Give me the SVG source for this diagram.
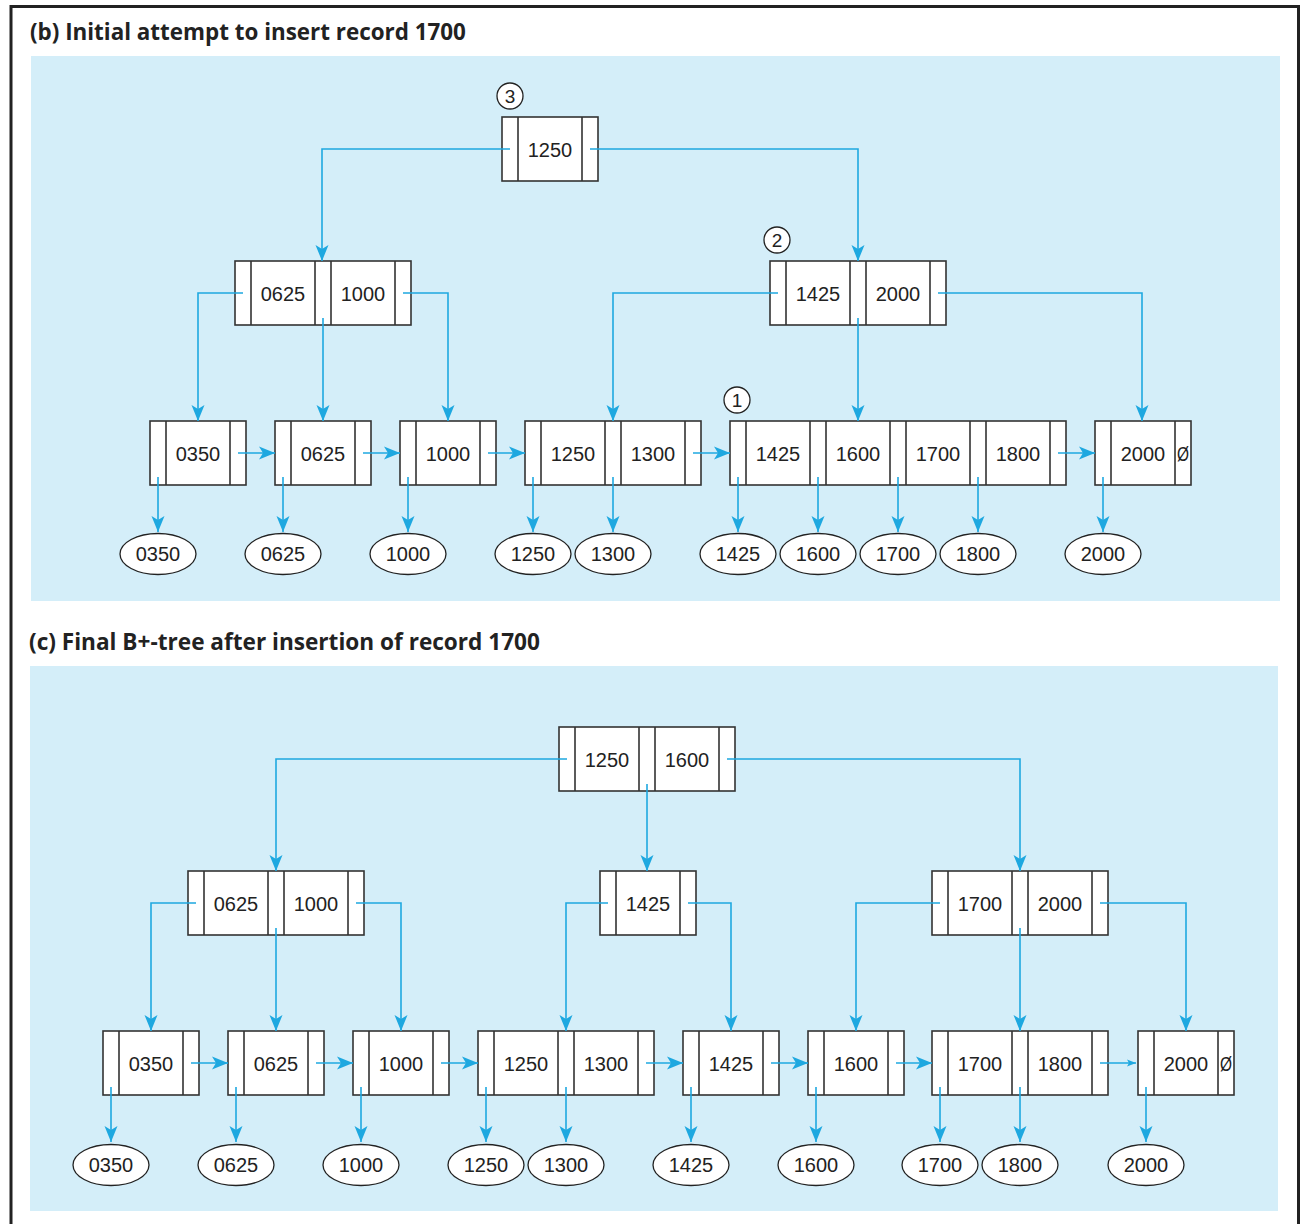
<svg xmlns="http://www.w3.org/2000/svg" width="1302" height="1224" viewBox="0 0 1302 1224">
<style>
.panel{fill:#d4eef9}
.box{fill:#fff;stroke:#333;stroke-width:1.6}
.div{stroke:#333;stroke-width:1.6}
.key{font-family:"Liberation Sans",Arial,sans-serif;font-size:20px;fill:#222;text-anchor:middle}
.title{font-family:"Open Sans","Liberation Sans",sans-serif;font-weight:700;fill:#222}
.ell{fill:#fff;stroke:#222;stroke-width:1.3}
.circ{fill:#fff;stroke:#222;stroke-width:1.3}
.con{fill:none;stroke:#1ea8e0;stroke-width:1.6}
.arr{marker-end:url(#ah)}
.sarr{marker-end:url(#ahs)}
</style>
<defs>
<marker id="ah" markerUnits="userSpaceOnUse" markerWidth="20" markerHeight="16" viewBox="-17 -8 18 16" refX="0" refY="0" orient="auto">
<path d="M0,0 L-16,-6.5 L-12,0 L-16,6.5 Z" fill="#1ea8e0"/>
</marker>
<marker id="ahs" markerUnits="userSpaceOnUse" markerWidth="12" markerHeight="10" viewBox="-10 -5 11 10" refX="0" refY="0" orient="auto">
<path d="M0,0 L-9,-3.5 L-7,0 L-9,3.5 Z" fill="#1ea8e0"/>
</marker>
</defs>
<rect x="0" y="0" width="1302" height="1224" fill="#fff"/>
<path d="M11,1224 V6.5 H1298.5 V1224" fill="none" stroke="#222" stroke-width="3"/>
<rect class="panel" x="31" y="56" width="1249" height="545"/>
<rect class="panel" x="30" y="666" width="1248" height="545"/>
<text class="title" x="30" y="40" style="font-size:22.4px">(b) Initial attempt to insert record 1700</text>
<text class="title" x="29" y="650" style="font-size:22.6px">(c) Final B+-tree after insertion of record 1700</text>

<!-- panel b nodes -->
<g id="b-root"><rect class="box" x="502" y="117" width="96" height="64"/><path class="div" d="M518,117 V181 M582,117 V181"/><text class="key" x="550" y="157">1250</text></g>
<g id="b-int-left"><rect class="box" x="235" y="261" width="176" height="64"/><path class="div" d="M251,261 V325 M315,261 V325 M331,261 V325 M395,261 V325"/><text class="key" x="283" y="301">0625</text><text class="key" x="363" y="301">1000</text></g>
<g id="b-int-right"><rect class="box" x="770" y="261" width="176" height="64"/><path class="div" d="M786,261 V325 M850,261 V325 M866,261 V325 M930,261 V325"/><text class="key" x="818" y="301">1425</text><text class="key" x="898" y="301">2000</text></g>
<g id="b-leaf-0350"><rect class="box" x="150" y="421" width="96" height="64"/><path class="div" d="M166,421 V485 M230,421 V485"/><text class="key" x="198" y="461">0350</text></g>
<g id="b-leaf-0625"><rect class="box" x="275" y="421" width="96" height="64"/><path class="div" d="M291,421 V485 M355,421 V485"/><text class="key" x="323" y="461">0625</text></g>
<g id="b-leaf-1000"><rect class="box" x="400" y="421" width="96" height="64"/><path class="div" d="M416,421 V485 M480,421 V485"/><text class="key" x="448" y="461">1000</text></g>
<g id="b-leaf-1250"><rect class="box" x="525" y="421" width="176" height="64"/><path class="div" d="M541,421 V485 M605,421 V485 M621,421 V485 M685,421 V485"/><text class="key" x="573" y="461">1250</text><text class="key" x="653" y="461">1300</text></g>
<g id="b-leaf-1425"><rect class="box" x="730" y="421" width="336" height="64"/><path class="div" d="M746,421 V485 M810,421 V485 M826,421 V485 M890,421 V485 M906,421 V485 M970,421 V485 M986,421 V485 M1050,421 V485"/><text class="key" x="778" y="461">1425</text><text class="key" x="858" y="461">1600</text><text class="key" x="938" y="461">1700</text><text class="key" x="1018" y="461">1800</text></g>
<g id="b-leaf-2000"><rect class="box" x="1095" y="421" width="96" height="64"/><path class="div" d="M1111,421 V485 M1175,421 V485"/><text class="key" x="1143" y="461">2000</text><text class="key" x="1183" y="461" textLength="12" lengthAdjust="spacingAndGlyphs">Ø</text></g>

<g id="b-markers">
<circle class="circ" cx="510" cy="96" r="13"/><text class="key" x="510" y="103" style="font-size:19px">3</text>
<circle class="circ" cx="777" cy="240" r="13"/><text class="key" x="777" y="247" style="font-size:19px">2</text>
<circle class="circ" cx="737" cy="400" r="13"/><text class="key" x="737" y="407" style="font-size:19px">1</text>
</g>

<g id="b-records">
<ellipse class="ell" cx="158" cy="554" rx="38" ry="20.5"/><text class="key" x="158" y="561">0350</text>
<ellipse class="ell" cx="283" cy="554" rx="38" ry="20.5"/><text class="key" x="283" y="561">0625</text>
<ellipse class="ell" cx="408" cy="554" rx="38" ry="20.5"/><text class="key" x="408" y="561">1000</text>
<ellipse class="ell" cx="533" cy="554" rx="38" ry="20.5"/><text class="key" x="533" y="561">1250</text>
<ellipse class="ell" cx="613" cy="554" rx="38" ry="20.5"/><text class="key" x="613" y="561">1300</text>
<ellipse class="ell" cx="738" cy="554" rx="38" ry="20.5"/><text class="key" x="738" y="561">1425</text>
<ellipse class="ell" cx="818" cy="554" rx="38" ry="20.5"/><text class="key" x="818" y="561">1600</text>
<ellipse class="ell" cx="898" cy="554" rx="38" ry="20.5"/><text class="key" x="898" y="561">1700</text>
<ellipse class="ell" cx="978" cy="554" rx="38" ry="20.5"/><text class="key" x="978" y="561">1800</text>
<ellipse class="ell" cx="1103" cy="554" rx="38" ry="20.5"/><text class="key" x="1103" y="561">2000</text>
</g>

<!-- panel c nodes -->
<g id="c-root"><rect class="box" x="559" y="727" width="176" height="64"/><path class="div" d="M575,727 V791 M639,727 V791 M655,727 V791 M719,727 V791"/><text class="key" x="607" y="767">1250</text><text class="key" x="687" y="767">1600</text></g>
<g id="c-int-left"><rect class="box" x="188" y="871" width="176" height="64"/><path class="div" d="M204,871 V935 M268,871 V935 M284,871 V935 M348,871 V935"/><text class="key" x="236" y="911">0625</text><text class="key" x="316" y="911">1000</text></g>
<g id="c-int-mid"><rect class="box" x="600" y="871" width="96" height="64"/><path class="div" d="M616,871 V935 M680,871 V935"/><text class="key" x="648" y="911">1425</text></g>
<g id="c-int-right"><rect class="box" x="932" y="871" width="176" height="64"/><path class="div" d="M948,871 V935 M1012,871 V935 M1028,871 V935 M1092,871 V935"/><text class="key" x="980" y="911">1700</text><text class="key" x="1060" y="911">2000</text></g>
<g id="c-leaf-0350"><rect class="box" x="103" y="1031" width="96" height="64"/><path class="div" d="M119,1031 V1095 M183,1031 V1095"/><text class="key" x="151" y="1071">0350</text></g>
<g id="c-leaf-0625"><rect class="box" x="228" y="1031" width="96" height="64"/><path class="div" d="M244,1031 V1095 M308,1031 V1095"/><text class="key" x="276" y="1071">0625</text></g>
<g id="c-leaf-1000"><rect class="box" x="353" y="1031" width="96" height="64"/><path class="div" d="M369,1031 V1095 M433,1031 V1095"/><text class="key" x="401" y="1071">1000</text></g>
<g id="c-leaf-1250"><rect class="box" x="478" y="1031" width="176" height="64"/><path class="div" d="M494,1031 V1095 M558,1031 V1095 M574,1031 V1095 M638,1031 V1095"/><text class="key" x="526" y="1071">1250</text><text class="key" x="606" y="1071">1300</text></g>
<g id="c-leaf-1425"><rect class="box" x="683" y="1031" width="96" height="64"/><path class="div" d="M699,1031 V1095 M763,1031 V1095"/><text class="key" x="731" y="1071">1425</text></g>
<g id="c-leaf-1600"><rect class="box" x="808" y="1031" width="96" height="64"/><path class="div" d="M824,1031 V1095 M888,1031 V1095"/><text class="key" x="856" y="1071">1600</text></g>
<g id="c-leaf-1700"><rect class="box" x="932" y="1031" width="176" height="64"/><path class="div" d="M948,1031 V1095 M1012,1031 V1095 M1028,1031 V1095 M1092,1031 V1095"/><text class="key" x="980" y="1071">1700</text><text class="key" x="1060" y="1071">1800</text></g>
<g id="c-leaf-2000"><rect class="box" x="1138" y="1031" width="96" height="64"/><path class="div" d="M1154,1031 V1095 M1218,1031 V1095"/><text class="key" x="1186" y="1071">2000</text><text class="key" x="1226" y="1071" textLength="12" lengthAdjust="spacingAndGlyphs">Ø</text></g>

<g id="c-records">
<ellipse class="ell" cx="111" cy="1165" rx="38" ry="20.5"/><text class="key" x="111" y="1172">0350</text>
<ellipse class="ell" cx="236" cy="1165" rx="38" ry="20.5"/><text class="key" x="236" y="1172">0625</text>
<ellipse class="ell" cx="361" cy="1165" rx="38" ry="20.5"/><text class="key" x="361" y="1172">1000</text>
<ellipse class="ell" cx="486" cy="1165" rx="38" ry="20.5"/><text class="key" x="486" y="1172">1250</text>
<ellipse class="ell" cx="566" cy="1165" rx="38" ry="20.5"/><text class="key" x="566" y="1172">1300</text>
<ellipse class="ell" cx="691" cy="1165" rx="38" ry="20.5"/><text class="key" x="691" y="1172">1425</text>
<ellipse class="ell" cx="816" cy="1165" rx="38" ry="20.5"/><text class="key" x="816" y="1172">1600</text>
<ellipse class="ell" cx="940" cy="1165" rx="38" ry="20.5"/><text class="key" x="940" y="1172">1700</text>
<ellipse class="ell" cx="1020" cy="1165" rx="38" ry="20.5"/><text class="key" x="1020" y="1172">1800</text>
<ellipse class="ell" cx="1146" cy="1165" rx="38" ry="20.5"/><text class="key" x="1146" y="1172">2000</text>
</g>

<g id="connectors">
<!-- panel b -->
<path class="con arr" d="M510,149 H322 V261"/>
<path class="con arr" d="M590,149 H858 V261"/>
<path class="con arr" d="M243,293 H198 V421"/>
<path class="con arr" d="M323,318 V421"/>
<path class="con arr" d="M403,293 H448 V421"/>
<path class="con arr" d="M778,293 H613 V421"/>
<path class="con arr" d="M858,318 V421"/>
<path class="con arr" d="M938,293 H1142 V421"/>
<path class="con arr" d="M238,453 H275"/>
<path class="con arr" d="M363,453 H400"/>
<path class="con arr" d="M488,453 H525"/>
<path class="con arr" d="M693,453 H730"/>
<path class="con arr" d="M1058,453 H1095"/>
<path class="con arr" d="M158,477 V532"/>
<path class="con arr" d="M283,477 V532"/>
<path class="con arr" d="M408,477 V532"/>
<path class="con arr" d="M533,477 V532"/>
<path class="con arr" d="M613,477 V532"/>
<path class="con arr" d="M738,477 V532"/>
<path class="con arr" d="M818,477 V532"/>
<path class="con arr" d="M898,477 V532"/>
<path class="con arr" d="M978,477 V532"/>
<path class="con arr" d="M1103,477 V532"/>
<!-- panel c -->
<path class="con arr" d="M567,759 H276 V871"/>
<path class="con arr" d="M647,784 V871"/>
<path class="con arr" d="M727,759 H1020 V871"/>
<path class="con arr" d="M196,903 H151 V1031"/>
<path class="con arr" d="M276,928 V1031"/>
<path class="con arr" d="M356,903 H401 V1031"/>
<path class="con arr" d="M608,903 H566 V1031"/>
<path class="con arr" d="M688,903 H731 V1031"/>
<path class="con arr" d="M940,903 H856 V1031"/>
<path class="con arr" d="M1020,928 V1031"/>
<path class="con arr" d="M1100,903 H1186 V1031"/>
<path class="con arr" d="M191,1063 H228"/>
<path class="con arr" d="M316,1063 H353"/>
<path class="con arr" d="M441,1063 H478"/>
<path class="con arr" d="M646,1063 H683"/>
<path class="con arr" d="M771,1063 H808"/>
<path class="con arr" d="M896,1063 H932"/>
<path class="con sarr" d="M1100,1063 H1136"/>
<path class="con arr" d="M111,1087 V1142"/>
<path class="con arr" d="M236,1087 V1142"/>
<path class="con arr" d="M361,1087 V1142"/>
<path class="con arr" d="M486,1087 V1142"/>
<path class="con arr" d="M566,1087 V1142"/>
<path class="con arr" d="M691,1087 V1142"/>
<path class="con arr" d="M816,1087 V1142"/>
<path class="con arr" d="M940,1087 V1142"/>
<path class="con arr" d="M1020,1087 V1142"/>
<path class="con arr" d="M1146,1087 V1142"/>
</g>
</svg>
